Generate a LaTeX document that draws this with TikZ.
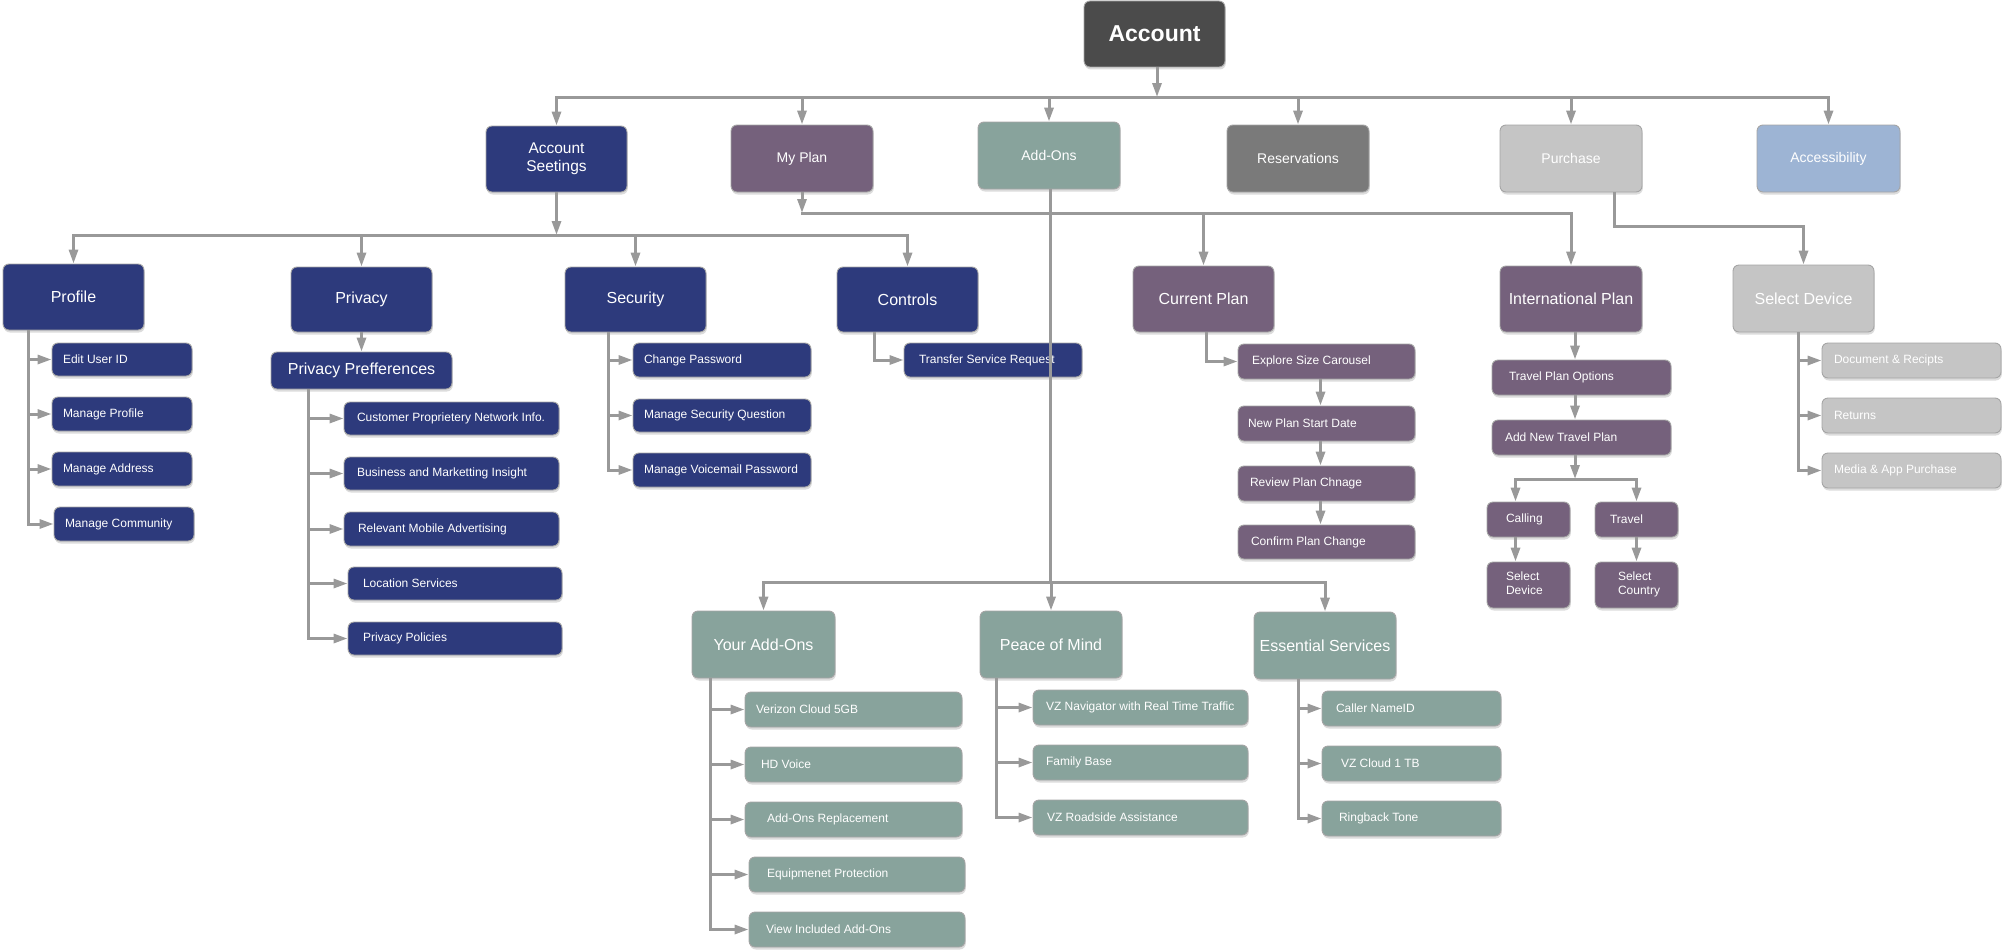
\documentclass[tikz,border=0pt]{standalone}
\usepackage{fontspec}
\setmainfont{Liberation Sans}
\usetikzlibrary{arrows.meta,shadows}
\definecolor{cDark}{HTML}{4B4B4B}
\definecolor{cNavy}{HTML}{2D3A7C}
\definecolor{cPurp}{HTML}{75617C}
\definecolor{cTeal}{HTML}{88A39C}
\definecolor{cGray}{HTML}{7A7A7A}
\definecolor{cLight}{HTML}{C5C5C5}
\definecolor{cBlue}{HTML}{9DB4D4}
\definecolor{lineC}{HTML}{999999}
\definecolor{bordC}{HTML}{A5A5A5}
\newcommand\mybox[7]{%
 \pgfmathsetmacro\bw{#4-#2}\pgfmathsetmacro\bh{#5-#3}%
 \pgfmathsetmacro\bcx{(#2+#4)/2}\pgfmathsetmacro\bcy{(#3+#5)/2}%
 \node[box,#6,minimum width=\bw pt,minimum height=\bh pt] (#1) at (\bcx,\bcy) {#7};}
\newcommand\myleaf[8]{%
 \pgfmathsetmacro\bw{#4-#2}\pgfmathsetmacro\bh{#5-#3}%
 \pgfmathsetmacro\bcx{(#2+#4)/2}\pgfmathsetmacro\bcy{(#3+#5)/2}%
 \pgfmathsetmacro\btw{#4-#2-2*#7}%
 \node[box,leaf,#6,inner xsep=#7pt,minimum width=\bw pt,minimum height=\bh pt] (#1) at (\bcx,\bcy) {\makebox[\btw pt][l]{#8}};}
\tikzset{
 box/.style={rectangle, rounded corners=6pt, draw=bordC, line width=0.9pt, text=white, align=center,
   inner xsep=4pt, inner ysep=2pt,
   drop shadow={shadow xshift=0.8pt, shadow yshift=-2.5pt, opacity=0.28}},
 lvl0/.style={fill=cDark, font=\fontsize{23}{27}\selectfont\bfseries},
 lvl1/.style={font=\fontsize{14}{17}\selectfont},
 lvl1b/.style={font=\fontsize{15.5}{17.5}\selectfont},
 lvl2/.style={font=\fontsize{16}{19}\selectfont},
 leaf/.style={font=\fontsize{12}{14}\selectfont, align=left},
 navy/.style={fill=cNavy}, purp/.style={fill=cPurp}, teal/.style={fill=cTeal},
 grayb/.style={fill=cGray}, light/.style={fill=cLight}, blueb/.style={fill=cBlue},
 conn/.style={draw=lineC, line width=3pt},
 arr/.style={conn, -{Triangle[length=14pt,width=9pt]}},
}
\begin{document}
\begin{tikzpicture}[x=1pt,y=-1pt]
\useasboundingbox (0,0) rectangle (2015,950);
% ---- top levels
\mybox{acc}{1084}{1}{1225}{67}{lvl0}{Account}
\mybox{as}{486}{126}{627}{192}{navy,lvl1b}{Account\\Seetings}
\mybox{mp}{731}{125}{873}{192}{purp,lvl1}{My Plan}
\mybox{ao}{978}{122}{1120}{189}{teal,lvl1}{Add-Ons}
\mybox{rs}{1227}{125}{1369}{192}{grayb,lvl1}{Reservations}
\mybox{pu}{1500}{125}{1642}{192}{light,lvl1}{Purchase}
\mybox{acs}{1757}{125}{1900}{192}{blueb,lvl1}{Accessibility}
% ---- second level
\mybox{pf}{3}{264}{144}{330}{navy,lvl2}{Profile}
\mybox{pv}{291}{267}{432}{332}{navy,lvl2}{Privacy}
\mybox{sc}{565}{267}{706}{332}{navy,lvl2}{Security}
\mybox{ct}{837}{267}{978}{332}{navy,lvl2}{Controls}
\mybox{cp}{1133}{266}{1274}{332}{purp,lvl2}{Current Plan}
\mybox{ipl}{1500}{266}{1642}{332}{purp,lvl2}{International Plan}
\mybox{sdv}{1733}{265}{1874}{332}{light,lvl2}{Select Device}
\mybox{pp}{271}{352}{452}{389}{navy,lvl2}{Privacy Prefferences}
\mybox{ya}{692}{611}{835}{678}{teal,lvl2}{Your Add-Ons}
\mybox{pm}{980}{611}{1122}{678}{teal,lvl2}{Peace of Mind}
\mybox{es}{1254}{612}{1396}{679}{teal,lvl2}{Essential Services}
% ---- leaves
\myleaf{eu}{52}{343}{192}{376}{navy}{11}{Edit User ID}
\myleaf{mpf}{52}{397}{192}{431}{navy}{11}{Manage Profile}
\myleaf{mad}{52}{452}{192}{486}{navy}{11}{Manage Address}
\myleaf{mcm}{54}{507}{194}{541}{navy}{11}{Manage Community}
\myleaf{cpn}{344}{402}{559}{435}{navy}{13}{Customer Proprietery Network Info.}
\myleaf{bmi}{344}{457}{559}{490}{navy}{13}{Business and Marketting Insight}
\myleaf{rma}{344}{512}{559}{546}{navy}{14}{Relevant Mobile Advertising}
\myleaf{lsv}{348}{567}{562}{600}{navy}{15}{Location Services}
\myleaf{ppo}{348}{622}{562}{655}{navy}{15}{Privacy Policies}
\myleaf{cpw}{633}{343}{811}{377}{navy}{11}{Change Password}
\myleaf{msq}{633}{399}{811}{432}{navy}{11}{Manage Security Question}
\myleaf{mvp}{633}{453}{811}{487}{navy}{11}{Manage Voicemail Password}
\myleaf{tsr}{904}{343}{1082}{377}{navy}{15}{Transfer Service Request}
\myleaf{esc}{1238}{344}{1415}{379}{purp}{14}{Explore Size Carousel}
\myleaf{nps}{1238}{406}{1415}{441}{purp}{10}{New Plan Start Date}
\myleaf{rpc}{1238}{466}{1415}{501}{purp}{12}{Review Plan Chnage}
\myleaf{cpc}{1238}{525}{1415}{559}{purp}{13}{Confirm Plan Change}
\myleaf{tpo}{1492}{360}{1671}{395}{purp}{17}{Travel Plan Options}
\myleaf{antp}{1492}{420}{1671}{455}{purp}{13}{Add New Travel Plan}
\myleaf{cal}{1487}{502}{1570}{537}{purp}{19}{Calling}
\myleaf{trv}{1595}{502}{1678}{537}{purp}{15}{Travel}
\myleaf{sdv2}{1487}{562}{1570}{608}{purp}{19}{\begin{tabular}{@{}l@{}}Select\\Device\end{tabular}}
\myleaf{scn}{1595}{562}{1678}{608}{purp}{23}{\begin{tabular}{@{}l@{}}Select\\Country\end{tabular}}
\myleaf{dr}{1822}{343}{2001}{378}{light}{12}{Document \& Recipts}
\myleaf{rt}{1822}{398}{2001}{433}{light}{12}{Returns}
\myleaf{map}{1822}{453}{2001}{488}{light}{12}{Media \& App Purchase}
\myleaf{vc}{745}{692}{962}{727}{teal}{11}{Verizon Cloud 5GB}
\myleaf{hdv}{745}{747}{962}{782}{teal}{16}{HD Voice}
\myleaf{aor}{745}{802}{962}{837}{teal}{22}{Add-Ons Replacement}
\myleaf{eqp}{749}{857}{965}{892}{teal}{18}{Equipmenet Protection}
\myleaf{via}{749}{912}{965}{947}{teal}{17}{View Included Add-Ons}
\myleaf{vzn}{1033}{690}{1248}{725}{teal}{13}{VZ Navigator with Real Time Traffic}
\myleaf{fb}{1033}{745}{1248}{780}{teal}{13}{Family Base}
\myleaf{vzr}{1033}{800}{1248}{835}{teal}{14}{VZ Roadside Assistance}
\myleaf{cni}{1322}{691}{1501}{726}{teal}{14}{Caller NameID}
\myleaf{vzc}{1322}{746}{1501}{781}{teal}{19}{VZ Cloud 1 TB}
\myleaf{rbt}{1322}{801}{1501}{836}{teal}{17}{Ringback Tone}
% ---- connectors
\coordinate (bus0) at (1157,97);
\draw[arr] (acc.south -| bus0) -- (bus0);
\draw[conn,line cap=rect] (bus0 -| as.north) -- (bus0 -| acs.north);
\foreach \n in {as,mp,ao,rs,pu,acs} \draw[arr] (bus0 -| \n.north) -- (\n.north);
\coordinate (bus1) at (556,235);
\draw[arr] (as.south) -- (as.south |- bus1);
\draw[conn,line cap=rect] (bus1 -| pf.north) -- (bus1 -| ct.north);
\foreach \n in {pf,pv,sc,ct} \draw[arr] (bus1 -| \n.north) -- (\n.north);
\coordinate (bus2) at (802,213);
\draw[arr] (mp.south) -- (mp.south |- bus2);
\draw[conn,line cap=rect] (bus2 -| mp.south) -- (bus2 -| ipl.north);
\foreach \n in {cp,ipl} \draw[arr] (bus2 -| \n.north) -- (\n.north);
\coordinate (bus3) at (1050,582);
\draw[conn] (ao.south -| bus3) -- (bus3);
\draw[conn,line cap=rect] (bus3 -| ya.north) -- (bus3 -| es.north);
\foreach \n in {ya,pm,es} \draw[arr] (bus3 -| \n.north) -- (\n.north);
\draw[arr] ([xshift=43pt]pu.south) -- ++(0,34) -| (sdv.north);
% profile
\coordinate (pfl) at ([xshift=26pt]pf.south west);
\foreach \n in {eu,mpf,mad,mcm} \draw[arr] (pfl) |- (\n.west);
% privacy
\draw[arr] (pv.south) -- (pp.north);
\coordinate (ppl) at ([xshift=38pt]pp.south west);
\foreach \n in {cpn,bmi,rma,lsv,ppo} \draw[arr] (ppl) |- (\n.west);
% security
\coordinate (scl) at ([xshift=44pt]sc.south west);
\foreach \n in {cpw,msq,mvp} \draw[arr] (scl) |- (\n.west);
% controls
\coordinate (ctl) at ([xshift=38pt]ct.south west);
\draw[arr] (ctl) |- (tsr.west);
% current plan
\coordinate (cpl) at ([xshift=3pt]cp.south);
\draw[arr] (cpl) |- (esc.west);
\draw[arr] ([xshift=-6pt]esc.south) -- ([xshift=-6pt]nps.north);
\draw[arr] ([xshift=-6pt]nps.south) -- ([xshift=-6pt]rpc.north);
\draw[arr] ([xshift=-6pt]rpc.south) -- ([xshift=-6pt]cpc.north);
% international plan
\coordinate (ipx) at ([xshift=4pt]ipl.south);
\draw[arr] (ipx) -- (ipx |- tpo.north);
\draw[arr] (ipx |- tpo.south) -- (ipx |- antp.north);
\coordinate (bus4) at (1575,479);
\draw[arr] (antp.south -| bus4) -- (bus4);
\coordinate (calx) at ([xshift=-13pt]cal.north);
\draw[conn,line cap=rect] (bus4 -| calx) -- (bus4 -| trv.north);
\draw[arr] (bus4 -| calx) -- (calx);
\draw[arr] (bus4 -| trv.north) -- (trv.north);
\draw[arr] (cal.south -| calx) -- (sdv2.north -| calx);
\draw[arr] (trv.south) -- (scn.north);
% select device
\coordinate (sdl) at ([xshift=66pt]sdv.south west);
\foreach \n in {dr,rt,map} \draw[arr] (sdl) |- (\n.west);
% add-ons groups
\coordinate (yal) at ([xshift=19pt]ya.south west);
\foreach \n in {vc,hdv,aor,eqp,via} \draw[arr] (yal) |- (\n.west);
\coordinate (pml) at ([xshift=17pt]pm.south west);
\foreach \n in {vzn,fb,vzr} \draw[arr] (pml) |- (\n.west);
\coordinate (esl) at ([xshift=45pt]es.south west);
\foreach \n in {cni,vzc,rbt} \draw[arr] (esl) |- (\n.west);
\end{tikzpicture}
\end{document}
